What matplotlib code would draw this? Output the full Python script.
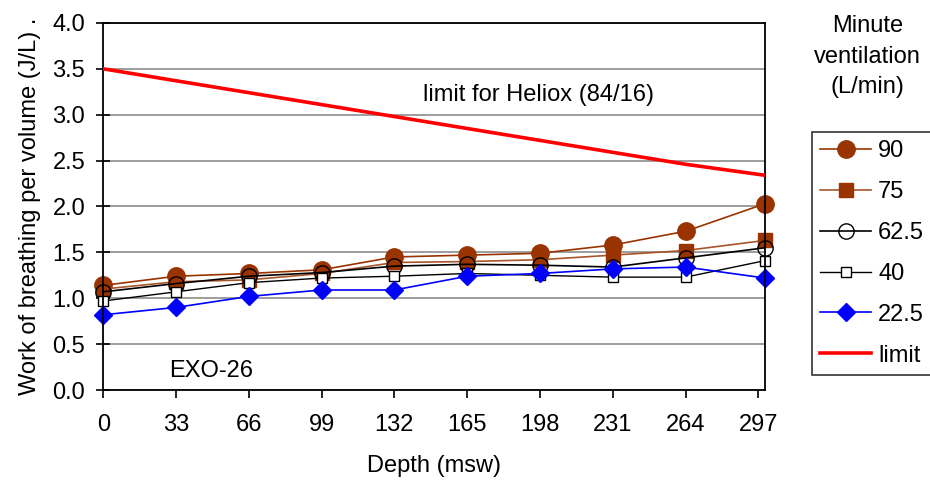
#Work of breathing vs depth for EXO-26, several minute ventilations

import numpy as np
import matplotlib.pyplot as plt

plt.rcParams['font.family'] = ['Liberation Sans', 'DejaVu Sans']

#depth of each measurement (last point is plotted at 300)
depth = [0, 33, 66, 99, 132, 165, 198, 231, 264, 300]
tick_depth = [0, 33, 66, 99, 132, 165, 198, 231, 264, 297]

wob90 = [1.14, 1.24, 1.27, 1.31, 1.45, 1.47, 1.49, 1.58, 1.73, 2.03]
wob75 = [1.10, 1.18, 1.20, 1.27, 1.39, 1.40, 1.42, 1.47, 1.52, 1.63]
wob62 = [1.07, 1.16, 1.24, 1.28, 1.35, 1.37, 1.36, 1.34, 1.44, 1.55]
wob40 = [0.97, 1.07, 1.17, 1.22, 1.24, 1.27, 1.25, 1.23, 1.23, 1.41]
wob22 = [0.82, 0.90, 1.02, 1.09, 1.09, 1.24, 1.27, 1.32, 1.34, 1.22]
limit = [3.50, 3.37, 3.24, 3.11, 2.98, 2.85, 2.72, 2.59, 2.46, 2.34]

brown = "#993300"
brown2 = "#a8552a"
fs = 17

f = plt.figure(figsize=(9.3, 4.83), dpi=100)
ax = f.add_axes([0.111, 0.1925, 0.7116, 0.76])

ax.set_axisbelow(True)
ax.grid(axis="y", color="#8c8c8c", lw=1.2)

ax.plot(depth, wob90, "-o", color=brown, lw=1.2, ms=12.5, mfc=brown, mec=brown, label="90", clip_on=False)
ax.plot(depth, wob75, "-s", color=brown2, lw=1.2, ms=9.5, mfc=brown, mec=brown, label="75", clip_on=False)
ax.plot(depth, wob62, "-o", color="black", lw=1.2, ms=11, mfc="none", mec="black", label="62.5", clip_on=False)
ax.plot(depth, wob40, "-s", color="black", lw=1.0, ms=7, mfc="white", mec="black", label="40", clip_on=False)
ax.plot(depth, wob22, "-D", color="blue", lw=1.2, ms=9, mfc="blue", mec="blue", label="22.5", clip_on=False)
ax.plot(depth, limit, "-", color="red", lw=2.6, label="limit", zorder=3)

ax.set_xlim(0, 300)
ax.set_ylim(0, 4)
ax.set_xticks(tick_depth)
ax.set_yticks(np.arange(0, 4.01, 0.5))
ax.set_yticklabels(["%.1f" % v for v in np.arange(0, 4.01, 0.5)])
ax.tick_params(axis="y", direction="inout", length=10, width=1.2, labelsize=fs, pad=8)
ax.tick_params(axis="x", direction="out", length=6, width=1.2, labelsize=fs, pad=11)
for s in ax.spines.values():
    s.set_linewidth(1.3)

ax.set_xlabel("Depth (msw)", fontsize=fs, labelpad=14)
ax.set_ylabel("Work of breathing per volume (J/L) .", fontsize=fs, labelpad=8)

ax.text(145, 3.22, "limit for Heliox (84/16)", fontsize=fs, va="center")
ax.text(30, 0.21, "EXO-26", fontsize=fs, va="center")

f.text(0.933, 0.882, "Minute\nventilation\n(L/min)", fontsize=fs, ha="center",
       va="center", linespacing=1.5)
leg = ax.legend(loc="upper left", bbox_to_anchor=(0.873, 0.727), bbox_transform=f.transFigure,
                fontsize=fs, frameon=True, fancybox=False, edgecolor="black",
                handlelength=2.15, labelspacing=0.8, borderpad=0.35, handletextpad=0.3,
                borderaxespad=0)
leg.get_frame().set_linewidth(1.2)

f.savefig("out.png", dpi=100)
